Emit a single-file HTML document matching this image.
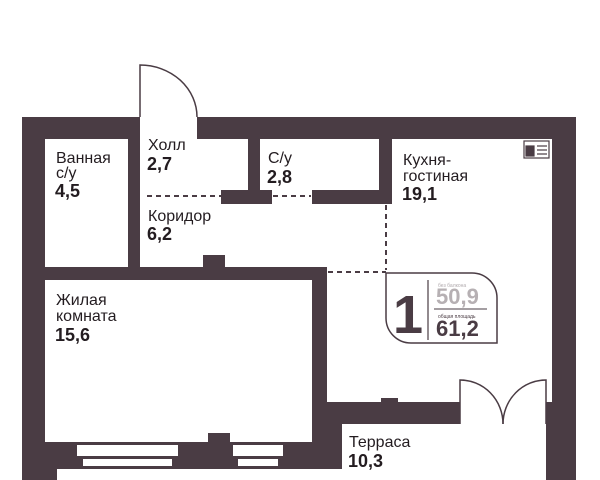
<!DOCTYPE html>
<html><head><meta charset="utf-8"><style>
html,body{margin:0;padding:0;background:#fff;}
svg{display:block;}
text{font-family:"Liberation Sans",sans-serif;fill:#231c20;}
.l{font-size:16px;}
.n{font-size:18px;font-weight:bold;}
</style></head><body>
<svg width="600" height="480" viewBox="0 0 600 480" xmlns="http://www.w3.org/2000/svg">
<g fill="#4a3c44">
<rect x="22" y="117" width="554" height="363"/>
</g>
<g fill="#fff">
<rect x="45" y="139" width="83" height="128"/>
<rect x="140" y="117" width="57" height="22"/>
<rect x="140" y="139" width="412" height="128"/>
<rect x="327" y="267" width="225" height="135"/>
<rect x="45" y="280" width="267" height="162"/>
<rect x="342" y="424" width="204" height="45"/>
<rect x="460" y="380" width="86" height="44"/>
<rect x="57" y="469" width="489" height="11"/>
<rect x="77" y="445" width="101" height="11"/>
<rect x="83" y="459" width="89" height="7"/>
<rect x="233" y="445" width="50" height="11"/>
<rect x="238" y="459" width="40" height="7"/>
</g>
<g fill="#4a3c44">
<rect x="128" y="139" width="12" height="85"/>
<rect x="128" y="262" width="12" height="5"/>
<rect x="248" y="139" width="12" height="51"/>
<rect x="221" y="190" width="51" height="14"/>
<rect x="379" y="139" width="13" height="65"/>
<rect x="312" y="190" width="80" height="14"/>
<rect x="45" y="267" width="190" height="13"/>
<rect x="203" y="255" width="22" height="12"/>
<rect x="283" y="267" width="44" height="13"/>
<rect x="312" y="267" width="15" height="13"/>
<rect x="208" y="433" width="22" height="9"/>
<rect x="381" y="398" width="17" height="4"/>
</g>
<g stroke="#4a3c44" stroke-width="2" stroke-dasharray="5,4" fill="none">
<line x1="147" y1="196" x2="221" y2="196"/>
<line x1="273" y1="196" x2="311" y2="196"/>
<line x1="137" y1="225" x2="137" y2="262"/>
<line x1="386" y1="205" x2="386" y2="270"/>
<line x1="328" y1="272" x2="386" y2="272"/>
<line x1="236" y1="276" x2="283" y2="276"/>
</g>
<g stroke="#4a3c44" stroke-width="1.5" fill="none">
<path d="M140,117 L140,65 A57,52 0 0 1 197,117"/>
<path d="M460,424 L460,380 A43,44 0 0 1 503,424"/>
<path d="M546,424 L546,380 A43,44 0 0 0 503,424"/>
</g>
<!-- icon -->
<g stroke="#4a3c44" stroke-width="1.2" fill="none">
<rect x="524" y="141" width="25" height="17"/>
<rect x="526" y="146" width="8" height="10" fill="#4a3c44"/>
<line x1="537" y1="146" x2="547" y2="146"/><line x1="537" y1="150" x2="547" y2="150"/><line x1="537" y1="154" x2="547" y2="154"/>
</g>
<!-- badge -->
<path d="M386,273 H472 A25,25 0 0 1 497,298 V343 H411 A25,25 0 0 1 386,318 Z" fill="#fff" stroke="#4a3c44" stroke-width="1.5"/>
<line x1="428" y1="280" x2="428" y2="340" stroke="#4a3c44" stroke-width="1.2"/>
<line x1="434" y1="309" x2="487" y2="309" stroke="#4a3c44" stroke-width="1"/>
<text x="393" y="333" style="font-size:54px;font-weight:bold;fill:#4a3c44">1</text>
<text x="438" y="287" style="font-size:5px;fill:#b0aaad">без балкона</text>
<text x="436" y="304" style="font-size:22px;font-weight:bold;fill:#b6b0b3">50,9</text>
<text x="438" y="318" style="font-size:5px;fill:#4a3c44">общая площадь</text>
<text x="436" y="336" style="font-size:22px;font-weight:bold;fill:#4a3c44">61,2</text>
<!-- labels -->
<text class="l" x="56" y="163">Ванная</text>
<text class="l" x="56" y="178">с/у</text>
<text class="n" x="55" y="197">4,5</text>
<text class="l" x="148" y="150">Холл</text>
<text class="n" x="147" y="170">2,7</text>
<text class="l" x="268" y="163">С/у</text>
<text class="n" x="267" y="183">2,8</text>
<text class="l" x="148" y="221">Коридор</text>
<text class="n" x="147" y="240">6,2</text>
<text class="l" x="403" y="165">Кухня-</text>
<text class="l" x="403" y="181">гостиная</text>
<text class="n" x="402" y="200">19,1</text>
<text class="l" x="56" y="305">Жилая</text>
<text class="l" x="56" y="321">комната</text>
<text class="n" x="55" y="341">15,6</text>
<text class="l" x="349" y="447">Терраса</text>
<text class="n" x="348" y="467">10,3</text>
</svg>
</body></html>
